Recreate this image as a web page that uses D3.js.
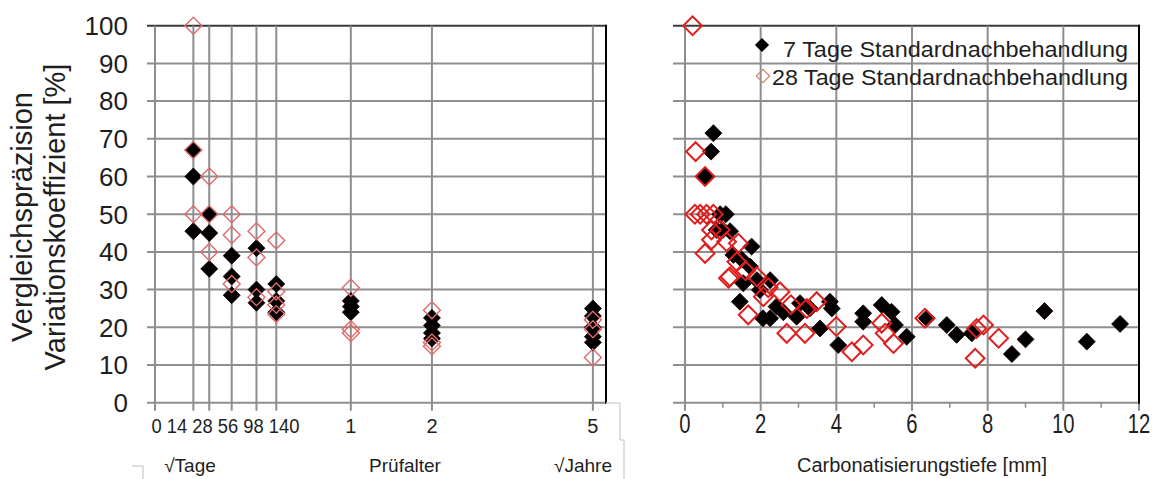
<!DOCTYPE html>
<html>
<head>
<meta charset="utf-8">
<script src="https://cdn.jsdelivr.net/npm/d3@7/dist/d3.min.js"></script>
<style>
  html, body { margin: 0; padding: 0; background: #fff; }
  svg { display: block; }
  text { font-family: "Liberation Sans", Arial, sans-serif; fill: #1e1e1e; }
</style>
</head>
<body>
<svg id="chart" width="1158" height="479"></svg>
<script>
// ---- data -------------------------------------------------------------
const cvTicks = [0, 10, 20, 30, 40, 50, 60, 70, 80, 90, 100];

// test ages in days (plotted on a square-root axis)
const ageDays = [14, 28, 56, 98, 140, 365, 730, 1825];
const dayTickLabels = ["0", "14", "28", "56", "98", "140"];
const yearTickDays = [365, 730, 1825];
const yearTickLabels = ["1", "2", "5"];

// coefficient of variation per test age, 7 days standard curing
const cv7ByAge = [
  [67, 60, 45.5],
  [50, 45, 35.5],
  [39, 33.5, 28.5],
  [41, 30, 26.5],
  [31.5, 27, 24],
  [27, 25.5, 24],
  [22.5, 20.5, 18.5, 17],
  [25, 23, 20, 17.5, 16]
];
// coefficient of variation per test age, 28 days standard curing
const cv28ByAge = [
  [100, 67, 50],
  [60, 50, 40],
  [50, 44.5, 31.5],
  [45.5, 38.5, 28],
  [43, 29.5, 26, 23.5],
  [30.5, 19.5, 18.5],
  [24.5, 16, 15],
  [22, 19.5, 12]
];

// carbonation depth [mm] vs. coefficient of variation [%]
const depthTicks = [0, 2, 4, 6, 8, 10, 12];
const depth7 = [0.75, 0.69, 0.53, 0.93, 1.08, 1.0, 1.19, 0.84, 1.28, 1.76, 1.5, 1.72, 1.54, 1.9, 2.25, 1.45, 1.98, 2.06, 2.25, 2.42, 2.6, 2.95, 3.04, 3.3, 3.57, 3.83, 3.88, 4.05, 4.71, 4.71, 5.2, 5.46, 5.55, 5.86, 6.39, 6.92, 7.18, 7.58, 8.64, 9.0, 9.5, 10.62, 11.5];
const cv7Depth = [71.5, 66.6, 60, 50, 50, 45.8, 45.5, 45.8, 39.2, 41.4, 38, 36.1, 31.7, 32.5, 32.5, 26.8, 29.9, 22.4, 22.4, 25.5, 24, 22.8, 26.4, 25, 19.7, 26.8, 25, 15.3, 23.7, 21.5, 25.9, 24.1, 20.6, 17.5, 22.4, 20.6, 18, 18.4, 12.9, 16.8, 24.3, 16.2, 20.9];
const depth28 = [0.2, 0.28, 0.53, 0.26, 0.4, 0.57, 0.75, 0.7, 0.93, 0.7, 0.53, 1.1, 1.41, 1.37, 1.19, 1.15, 1.6, 1.9, 2.07, 2.51, 1.67, 2.2, 2.8, 3.22, 3.48, 2.69, 3.17, 4.0, 4.41, 4.71, 5.2, 5.29, 5.51, 6.34, 7.71, 7.67, 7.89, 8.29];
const cv28Depth = [100, 66.6, 60, 50, 50, 50, 50, 45.8, 45.8, 43.2, 39.6, 42.7, 42.3, 37.4, 33.4, 33, 35, 33.4, 28.1, 29.4, 23.3, 30.5, 26, 25, 26.8, 18.4, 18.4, 20.2, 13.5, 15.3, 21.1, 18.4, 15.7, 22.4, 19.7, 11.8, 20.6, 17.1];

const legendLabels = ["7 Tage Standardnachbehandlung", "28 Tage Standardnachbehandlung"];

// ---- layout -----------------------------------------------------------
const svg = d3.select("#chart");
const plotTop = 25.7, plotBottom = 402.7;
const gridColor = "#8e8e8e";

const y = d3.scaleLinear().domain([0, 100]).range([plotBottom, plotTop]);
const xAge = d3.scaleSqrt().domain([0, 1936]).range([155, 606]);
const xDepth = d3.scaleLinear().domain([0, 12]).range([685, 1139]);

const diamond = d3.symbol().type(d3.symbolSquare).size(144);
const diamondLarge = d3.symbol().type(d3.symbolSquare).size(176);

function frame(g, x0, x1, vTicks, xs, tickOut) {
  // horizontal grid
  g.selectAll("line.h").data(cvTicks).join("line")
    .attr("class", "h")
    .attr("x1", x0 - tickOut).attr("x2", x1)
    .attr("y1", d => y(d)).attr("y2", d => y(d))
    .attr("stroke", d => d === 100 ? "#3a3a3a" : gridColor)
    .attr("stroke-width", 2);
  // vertical grid
  g.selectAll("line.v").data(vTicks).join("line")
    .attr("class", "v")
    .attr("x1", d => xs(d)).attr("x2", d => xs(d))
    .attr("y1", plotTop).attr("y2", plotBottom + 8)
    .attr("stroke", gridColor).attr("stroke-width", 2);
  // right border
  g.append("line")
    .attr("x1", x1).attr("x2", x1).attr("y1", plotTop - 1).attr("y2", plotBottom + 1)
    .attr("stroke", "#000").attr("stroke-width", 2);
}

// ---- left panel: CV vs. test age --------------------------------------
const left = svg.append("g");
frame(left, 155, 606, [0].concat(ageDays), xAge, 8);

left.selectAll("text.ytick").data(cvTicks).join("text")
  .attr("class", "ytick")
  .attr("x", 128).attr("y", d => y(d)).attr("dy", "0.36em")
  .attr("text-anchor", "end").attr("font-size", 26)
  .text(d => d);

left.append("text")
  .attr("x", 151.5).attr("y", 433).attr("font-size", 20)
  .attr("textLength", 148).attr("lengthAdjust", "spacingAndGlyphs")
  .text(dayTickLabels.join(" "));

left.selectAll("text.yr").data(yearTickDays).join("text")
  .attr("class", "yr")
  .attr("x", d => xAge(d)).attr("y", 433)
  .attr("text-anchor", "middle").attr("font-size", 20)
  .text((d, i) => yearTickLabels[i]);

left.append("text").attr("x", 190).attr("y", 472).attr("text-anchor", "middle")
  .attr("font-size", 19).text("\u221ATage");
left.append("text").attr("x", 405).attr("y", 472).attr("text-anchor", "middle")
  .attr("font-size", 19).text("Prüfalter");
left.append("text").attr("x", 583).attr("y", 472).attr("text-anchor", "middle")
  .attr("font-size", 19).text("\u221AJahre");

// y-axis title, two lines
[["Vergleichspräzision", 32], ["Variationskoeffizient [%]", 65]].forEach(([t, bx]) => {
  left.append("text")
    .attr("transform", `translate(${bx},217) rotate(-90)`)
    .attr("text-anchor", "middle").attr("font-size", 29)
    .text(t);
});

const flat = (rows) => rows.flatMap((vals, i) => vals.map(v => ({ day: ageDays[i], cv: v })));

left.selectAll("path.s7").data(flat(cv7ByAge)).join("path")
  .attr("class", "s7")
  .attr("d", diamond)
  .attr("transform", d => `translate(${xAge(d.day)},${y(d.cv)}) rotate(45)`)
  .attr("fill", "#000").attr("stroke", "#1a0000").attr("stroke-width", 0.8);

left.selectAll("path.s28").data(flat(cv28ByAge)).join("path")
  .attr("class", "s28")
  .attr("d", diamond)
  .attr("transform", d => `translate(${xAge(d.day)},${y(d.cv)}) rotate(45)`)
  .attr("fill", "none").attr("stroke", "#e06a6a").attr("stroke-width", 1.4);

// faint outlines around the axis label area
const faint = "#d4d4d4";
[[606, 403, 620, 403], [620, 403, 620, 440], [620, 440, 624, 440], [624, 440, 624, 479],
 [132, 466, 143, 466], [143, 466, 143, 479]].forEach(([a, b, c, d]) => {
  svg.append("line").attr("x1", a).attr("y1", b).attr("x2", c).attr("y2", d)
    .attr("stroke", faint).attr("stroke-width", 1.5);
});

// ---- right panel: CV vs. carbonation depth ----------------------------
const right = svg.append("g");
frame(right, 685, 1139, depthTicks, xDepth, 12);

// minor ticks
right.selectAll("line.minor").data(d3.range(1, 12, 2)).join("line")
  .attr("class", "minor")
  .attr("x1", d => xDepth(d)).attr("x2", d => xDepth(d))
  .attr("y1", plotBottom).attr("y2", plotBottom + 5)
  .attr("stroke", gridColor).attr("stroke-width", 1.5);

right.selectAll("text.xtick").data(depthTicks).join("text")
  .attr("class", "xtick")
  .attr("transform", d => `translate(${xDepth(d)},433) scale(0.75,1)`)
  .attr("text-anchor", "middle").attr("font-size", 27)
  .text(d => d);

right.append("text").attr("x", 922).attr("y", 472).attr("text-anchor", "middle")
  .attr("font-size", 20).text("Carbonatisierungstiefe [mm]");

right.selectAll("path.r7").data(depth7.map((d, i) => [d, cv7Depth[i]])).join("path")
  .attr("class", "r7")
  .attr("d", diamond)
  .attr("transform", d => `translate(${xDepth(d[0])},${y(d[1])}) rotate(45)`)
  .attr("fill", "#000").attr("stroke", "#1a0000").attr("stroke-width", 0.8);

right.selectAll("path.r28").data(depth28.map((d, i) => [d, cv28Depth[i]])).join("path")
  .attr("class", "r28")
  .attr("d", diamondLarge)
  .attr("transform", d => `translate(${xDepth(d[0])},${y(d[1])}) rotate(45)`)
  .attr("fill", "none").attr("stroke", "#e01e1e").attr("stroke-width", 2);

// legend
const legend = svg.append("g");
legend.append("path").attr("d", d3.symbol().type(d3.symbolSquare).size(100))
  .attr("transform", "translate(762,45) rotate(45)").attr("fill", "#000");
legend.append("path").attr("d", d3.symbol().type(d3.symbolSquare).size(88))
  .attr("transform", "translate(763,76) rotate(45)")
  .attr("fill", "none").attr("stroke", "#c98a7c").attr("stroke-width", 1.3);
legend.append("text").attr("x", 783).attr("y", 57).attr("font-size", 22)
  .attr("textLength", 345).attr("lengthAdjust", "spacingAndGlyphs")
  .text(legendLabels[0]);
legend.append("text").attr("x", 772).attr("y", 85).attr("font-size", 22)
  .attr("textLength", 356).attr("lengthAdjust", "spacingAndGlyphs")
  .text(legendLabels[1]);
</script>
</body>
</html>
